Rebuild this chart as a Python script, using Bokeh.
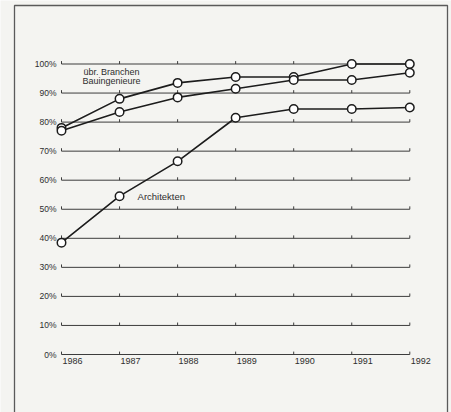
from bokeh.plotting import figure
from bokeh.models import Range1d
from bokeh.core.properties import value
from bokeh.embed import file_html
from bokeh.resources import INLINE

# ---- data ----
years = [1986, 1987, 1988, 1989, 1990, 1991, 1992]
year_labels = ["1986", "1987", "1988", "1989", "1990", "1991", "1992"]
uebr_branchen = [78, 88, 93.5, 95.5, 95.5, 100, 100]
bauingenieure = [77, 83.5, 88.5, 91.5, 94.5, 94.5, 97]
architekten = [38.5, 54.5, 66.5, 81.5, 84.5, 84.5, 85]
levels = [0, 10, 20, 30, 40, 50, 60, 70, 80, 90, 100]
level_labels = ["0%", "10%", "20%", "30%", "40%", "50%", "60%", "70%", "80%", "90%", "100%"]

# ---- layout / scales ----
W, H = 451, 412
x0_px, x_step = 61.0, 58.05    # pixel of 1986, px per year
y0_px, y_step = 354.0, 2.905   # pixel of 0 %, px per percent
x_start = years[0] - x0_px / x_step
x_end = x_start + W / x_step
y_end = levels[0] + y0_px / y_step
y_start = y_end - H / y_step

BG = "#f4f4f1"
INK = "#1c1c1c"
GRID = "#3c3c3c"
TXT = "#2e2e2e"
FONT = value("Liberation Sans")

p = figure(width=W, height=H, x_range=Range1d(x_start, x_end),
           y_range=Range1d(y_start, y_end), min_border=0,
           x_axis_location=None, y_axis_location=None,
           toolbar_location=None, output_backend="svg")
p.grid.visible = False
p.outline_line_color = None
p.background_fill_color = BG
p.border_fill_color = BG

# frame (left, top, right)
fl = x_start + 14 / x_step
fr = x_end - 4 / x_step
ft = y_end - 5 / y_step
p.line(x=[fl, fl, fr, fr], y=[y_start, ft, ft, y_start], line_color="#5a5a5a", line_width=1.3)

# horizontal rules with small upward ticks at each year
p.segment(x0=[years[0]] * len(levels), x1=[years[-1]] * len(levels),
          y0=levels, y1=levels, line_color=GRID, line_width=1)
tx, ty0, ty1 = [], [], []
for lv in levels:
    for yr in years:
        tx.append(yr); ty0.append(lv); ty1.append(lv + 1.0)
p.segment(x0=tx, x1=tx, y0=ty0, y1=ty1, line_color=GRID, line_width=1)

# tick labels
p.text(x=[years[0]] * len(levels), y=levels, text=level_labels, x_offset=-5,
       text_align="right", text_baseline="middle", text_font=FONT,
       text_font_size="8.5px", text_color=TXT)
p.text(x=years, y=[levels[0]] * len(years), text=year_labels, x_offset=1, y_offset=3,
       text_align="left", text_baseline="top", text_font=FONT,
       text_font_size="9px", text_color=TXT)

# series
for ser in (uebr_branchen, bauingenieure, architekten):
    p.line(x=years, y=ser, line_color=INK, line_width=1.6)
    p.scatter(x=years, y=ser, marker="circle", size=8.5, fill_color="white",
              line_color=INK, line_width=1.5)

# series labels
p.text(x=[years[0]], y=[levels[-1]], text=["übr. Branchen"], x_offset=22, y_offset=8,
       text_align="left", text_baseline="middle", text_font=FONT,
       text_font_size="9px", text_color=TXT)
p.text(x=[years[0]], y=[levels[-1]], text=["Bauingenieure"], x_offset=21, y_offset=17,
       text_align="left", text_baseline="middle", text_font=FONT,
       text_font_size="9px", text_color=TXT)
p.text(x=[years[1]], y=[architekten[1]], text=["Architekten"], x_offset=18, y_offset=0,
       text_align="left", text_baseline="middle", text_font=FONT,
       text_font_size="9.5px", text_color=TXT)

open("out.html", "w").write(file_html(p, INLINE))
